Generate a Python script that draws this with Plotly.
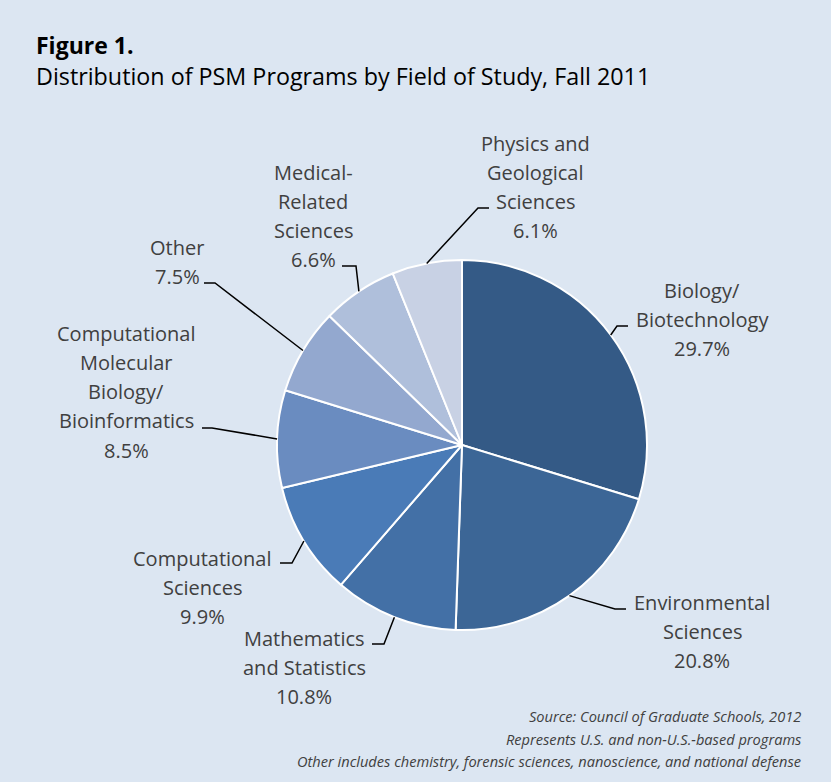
import numpy as np
import plotly.graph_objects as go

W, H = 831, 782

fields = ["Biology/<br>Biotechnology", "Environmental<br>Sciences", "Mathematics<br>and Statistics",
          "Computational<br>Sciences", "Computational<br>Molecular<br>Biology/<br>Bioinformatics",
          "Other", "Medical-<br>Related<br>Sciences", "Physics and<br>Geological<br>Sciences"]
shares = [29.7, 20.8, 10.8, 9.9, 8.5, 7.5, 6.6, 6.1]
pct_labels = ["29.7%", "20.8%", "10.8%", "9.9%", "8.5%", "7.5%", "6.6%", "6.1%"]
colors = ["#345a86", "#3c6696", "#4370a6", "#4a7bb7", "#6a8cc0", "#93a8cf", "#afbfdb", "#c8d1e4"]

# pie geometry (pixels)
cx, cy, r = 462, 445, 185

# label layout: text centre x, first line y, elbow point, line end point
label_pos = [
    (702, 290, (617, 326), (628, 326)),
    (702, 602, (615, 609), (626, 609)),
    (304, 638, (384, 644), (372, 644)),
    (202, 558, (292, 563), (280, 563)),
    (126, 333, (212, 428), (202, 428)),
    (177, 247, (215, 283), (204, 283)),
    (313, 172, (356, 266), (342, 266)),
    (535, 143, (478, 208), (489, 208)),
]
line_gap = 29.3

fig = go.Figure()
fig.add_trace(go.Pie(
    values=shares, labels=[f.replace("<br>", " ") for f in fields],
    sort=False, direction="clockwise", rotation=0,
    marker=dict(colors=colors, line=dict(color="white", width=2)),
    textinfo="none", hoverinfo="label+percent", showlegend=False,
    domain=dict(x=[(cx - r) / W, (cx + r) / W], y=[(H - cy - r) / H, (H - cy + r) / H]),
))

annotations = []
shapes = []
total = sum(shares)
cum = np.cumsum([0] + shares)
for i, (name, pct) in enumerate(zip(fields, pct_labels)):
    mid = (cum[i] + shares[i] / 2) / total * 2 * np.pi
    ex, ey = cx + r * np.sin(mid), cy - r * np.cos(mid)
    tx, ty, elbow, end = label_pos[i]
    shapes.append(dict(type="path", xref="x", yref="y",
                       path=f"M {ex:.1f} {ey:.1f} L {elbow[0]} {elbow[1]} L {end[0]} {end[1]}",
                       line=dict(color="black", width=1.5)))
    for j, ln in enumerate(name.split("<br>") + [pct]):
        annotations.append(dict(x=tx, y=ty + j * line_gap, xref="x", yref="y", text=ln,
                                showarrow=False, xanchor="center", yanchor="middle",
                                font=dict(family="Open Sans", size=20, color="#404040")))

annotations.append(dict(x=34, y=45, xref="x", yref="y", text="<b>Figure 1.</b>", showarrow=False,
                        xanchor="left", yanchor="middle",
                        font=dict(family="Open Sans", size=23, color="black")))
annotations.append(dict(x=34, y=76, xref="x", yref="y",
                        text="Distribution of PSM Programs by Field of Study, Fall 2011", showarrow=False,
                        xanchor="left", yanchor="middle",
                        font=dict(family="Open Sans", size=23.3, color="black")))
notes = ["Source: Council of Graduate Schools, 2012",
         "Represents U.S. and non-U.S.-based programs",
         "Other includes chemistry, forensic sciences, nanoscience, and national defense"]
for k, note in enumerate(notes):
    annotations.append(dict(x=803, y=716 + k * 22.5, xref="x", yref="y", text=f"<i>{note}</i>",
                            showarrow=False, xanchor="right", yanchor="middle",
                            font=dict(family="Open Sans", size=14.6, color="#404040")))

fig.update_layout(
    width=W, height=H, margin=dict(l=0, r=0, t=0, b=0),
    paper_bgcolor="#dce6f2", plot_bgcolor="rgba(0,0,0,0)",
    xaxis=dict(range=[0, W], visible=False, fixedrange=True),
    yaxis=dict(range=[H, 0], visible=False, fixedrange=True),
    annotations=annotations, shapes=shapes,
)
# drop the default page margin so the figure sits at the window corner
fig.write_html("out.html", config={"displayModeBar": False},
               post_script="document.body.style.margin='0';")
